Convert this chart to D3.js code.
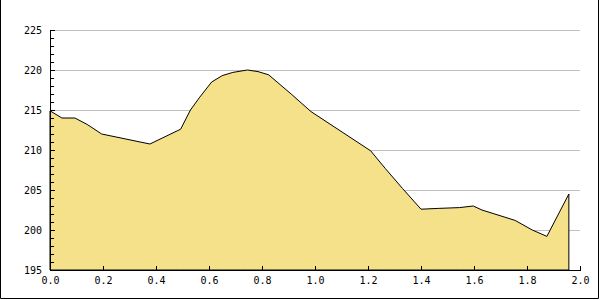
<!DOCTYPE html>
<html>
<head>
<meta charset="utf-8">
<script src="https://cdn.jsdelivr.net/npm/d3@7"></script>
<style>
  body { margin: 0; background: #fff; }
  svg { display: block; }
  .tick text { font-family: "DejaVu Sans Mono", monospace; font-size: 10px; fill: #000; }
</style>
</head>
<body>
<script>
var w = 600;
var h = 300;

// values
var xValues = [0, 0.045, 0.094, 0.14, 0.195, 0.377, 0.493, 0.53, 0.565, 0.61, 0.65, 0.69,
               0.745, 0.785, 0.825, 0.91, 0.985, 1.21, 1.265, 1.33, 1.40, 1.465, 1.545,
               1.597, 1.63, 1.755, 1.82, 1.875, 1.958];
var yValues = [214.9, 214.0, 214.0, 213.2, 212.0, 210.75, 212.6, 215.0, 216.6, 218.5, 219.3, 219.7,
               220.0, 219.8, 219.4, 217.0, 214.8, 209.9, 207.7, 205.2, 202.6, 202.7, 202.8,
               203.0, 202.5, 201.2, 200.0, 199.2, 204.5];
var xTicks = [0, 0.2, 0.4, 0.6, 0.8, 1.0, 1.2, 1.4, 1.6, 1.8, 2.0];
var yTicks = [195, 200, 205, 210, 215, 220, 225];
var yMinorTicks = d3.range(195, 226, 1);

var plotLeft = 50, plotRight = 580, plotTop = 30, plotBottom = 270;

var svg = d3.select("body")
            .append("svg")
            .attr("width", w)
            .attr("height", h);

// frame round the picture
svg.append("path")
    .attr("d", "M0.5,0 V" + (h - 1.5) + " H" + (w - 1.5) + " V0")
    .attr("fill", "none")
    .attr("stroke", "#000");

var x = d3.scaleLinear().domain([0, 2]).range([plotLeft, plotRight]);
var y = d3.scaleLinear().domain([195, 225]).range([plotBottom, plotTop]);

// grid lines
svg.append("g")
    .attr("transform", "translate(" + plotLeft + ",0)")
    .call(d3.axisLeft(y).tickValues(yTicks).tickSize(-(plotRight - plotLeft)).tickFormat(""))
    .call(function(g) {
        g.select(".domain").remove();
        g.selectAll("line").attr("stroke", "#c0c0c0").attr("shape-rendering", "crispEdges");
    });

var points = xValues.map(function(d, i) { return [d, yValues[i]]; });

var area = d3.area()
    .x(function(d) { return x(d[0]); })
    .y0(y(195))
    .y1(function(d) { return y(d[1]); });

svg.append("path")
    .datum(points)
    .attr("d", area)
    .attr("fill", "#f5e18a")
    .attr("stroke", "#000")
    .attr("stroke-width", 1);

// minor y ticks
svg.append("g")
    .attr("transform", "translate(" + plotLeft + ",0)")
    .call(d3.axisLeft(y).tickValues(yMinorTicks).tickSize(-4).tickFormat(""))
    .call(function(g) {
        g.select(".domain").remove();
        g.selectAll("line").attr("stroke", "#000").attr("shape-rendering", "crispEdges");
    });

// y axis
svg.append("g")
    .attr("transform", "translate(" + plotLeft + ",0)")
    .call(d3.axisLeft(y).tickValues(yTicks).tickSize(-5).tickPadding(8).tickSizeOuter(0))
    .call(function(g) {
        g.selectAll("line, .domain").attr("stroke", "#000").attr("shape-rendering", "crispEdges");
    });

// x axis
svg.append("g")
    .attr("transform", "translate(0," + plotBottom + ")")
    .call(d3.axisBottom(x).tickValues(xTicks).tickSize(-4).tickPadding(7).tickSizeOuter(0)
        .tickFormat(d3.format(".1f")))
    .call(function(g) {
        g.selectAll("line, .domain").attr("stroke", "#000").attr("shape-rendering", "crispEdges");
    });
</script>
</body>
</html>
